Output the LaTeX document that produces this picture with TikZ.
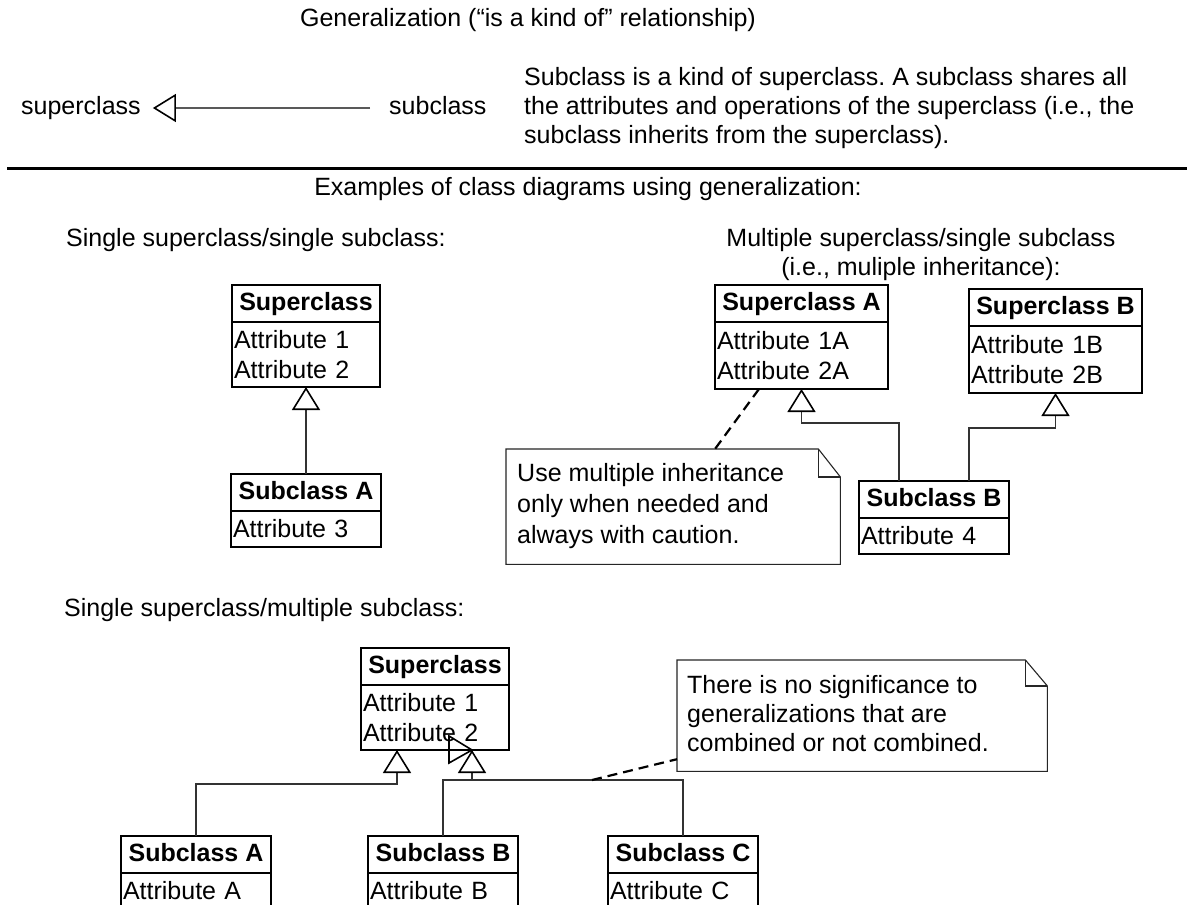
\documentclass[tikz,border=0pt]{standalone}
\usepackage{fontspec}
\setmainfont{Liberation Sans}
\usetikzlibrary{arrows.meta,calc}
\frenchspacing
\begin{document}
\begin{tikzpicture}[x=1pt,y=-1pt,
  base/.style={inner sep=0pt,font=\fontsize{25}{30}\selectfont},
  lbl/.style={base,text height=18pt,text depth=5pt},
  hdr/.style={base,draw,line width=1.7pt,outer sep=0pt,minimum height=37pt,font=\fontsize{25}{30}\selectfont\bfseries,text height=18pt,text depth=5pt},
  attr/.style={base,draw,line width=1.7pt,outer sep=0pt,anchor=north,align=left,inner xsep=2pt},
  conn/.style={draw=black!80,line width=1.1pt},
  gen/.style={conn,-{Triangle[open,length=23pt,width=28pt,line width=1.6pt,color=black]}},
  notebox/.style={draw=black!85,line width=1.1pt},
  noteline/.style={black,line width=2.2pt,dash pattern=on 10pt off 6pt}]
\useasboundingbox (0,0) rectangle (1187,905);
\clip (0,0) rectangle (1187,905);
\fill[white] (0,0) rectangle (1187,905);

% header part
\node[lbl] (title) at (528,20) {Generalization (“is a kind of” relationship)};
\node[lbl,anchor=west] (lsup) at (21,108) {superclass};
\node[lbl,anchor=west] (lsub) at (389,108) {subclass};
\draw[gen,draw=black!65,line width=1.3pt] ([xshift=-19pt]lsub.west) -- ([xshift=12pt]lsup.east);
\node[lbl,anchor=west] (p1) at (524,79) {Subclass is a kind of superclass. A subclass shares all};
\node[lbl,anchor=west] (p2) at (524,108) {the attributes and operations of the superclass (i.e., the};
\node[lbl,anchor=west] (p3) at (524,137) {subclass inherits from the superclass).};
\draw[line width=3pt] (7,168) -- (1187,168);

\node[lbl] (ex) at (588,189) {Examples of class diagrams using generalization:};
\node[lbl,anchor=west] (h1) at (66,240) {Single superclass/single subclass:};
\node[lbl] (h2a) at (921,240) {Multiple superclass/single subclass};
\node[lbl] (h2b) at (921,269) {(i.e., muliple inheritance):};
\node[lbl,anchor=west] (h3) at (64,610) {Single superclass/multiple subclass:};

% single superclass / single subclass
\node[hdr,minimum width=148pt] (s1) at (306,303.5) {Superclass};
\node[attr,text width=144pt,minimum height=65pt] (s1a) at (s1.south) {Attribute 1\\Attribute 2};
\node[hdr,minimum width=150pt] (a1) at (306,492.5) {Subclass A};
\node[attr,text width=146pt,minimum height=36pt] (a1a) at (a1.south) {Attribute 3};
\draw[gen] (a1.north) -- (s1a.south);

% multiple superclass / single subclass
\node[hdr,minimum width=173pt] (sa) at (801.5,303.5) {Superclass A};
\node[attr,text width=169pt,minimum height=67pt] (saa) at (sa.south) {Attribute 1A\\Attribute 2A};
\node[hdr,minimum width=173pt] (sb) at (1055.5,307.5) {Superclass B};
\node[attr,text width=169pt,minimum height=67pt] (sba) at (sb.south) {Attribute 1B\\Attribute 2B};
\node[hdr,minimum width=150pt] (b1) at (934,499.5) {Subclass B};
\node[attr,text width=146pt,minimum height=36pt] (b1a) at (b1.south) {Attribute 4};
\draw[gen] ($(b1.north)+(-35,0)$) -- ++(0,-58) -| (saa.south);
\draw[gen] ($(b1.north)+(35,0)$) -- ++(0,-53) -| (sba.south);

\node[minimum width=334pt,minimum height=115pt,anchor=north west,inner sep=0pt] (n1) at (506,449) {};
\draw[notebox] (n1.north west) -- ($(n1.north east)+(-22,0)$) -- ($(n1.north east)+(0,28)$) -- (n1.south east) -- (n1.south west) -- cycle;
\draw[notebox] ($(n1.north east)+(-22,0)$) |- ($(n1.north east)+(0,28)$);
\node[lbl,anchor=west] (n1t1) at (517,475) {Use multiple inheritance};
\node[lbl,anchor=west] (n1t2) at (517,506) {only when needed and};
\node[lbl,anchor=west] (n1t3) at (517,537) {always with caution.};
\draw[noteline] ($(saa.south)+(-42.5,0)$) -- ($(n1.north west)+(209,0)$);

% single superclass / multiple subclass
\node[hdr,minimum width=148pt] (sc) at (435,666.5) {Superclass};
\node[attr,text width=144pt,minimum height=65pt] (sca) at (sc.south) {Attribute 1\\Attribute 2};
\node[hdr,minimum width=150pt] (a2) at (196,854.5) {Subclass A};
\node[attr,text width=146pt,minimum height=36pt] (a2a) at (a2.south) {Attribute A};
\node[hdr,minimum width=150pt] (b2) at (443,854.5) {Subclass B};
\node[attr,text width=146pt,minimum height=36pt] (b2a) at (b2.south) {Attribute B};
\node[hdr,minimum width=150pt] (c2) at (683,854.5) {Subclass C};
\node[attr,text width=146pt,minimum height=36pt] (c2a) at (c2.south) {Attribute C};
\draw[gen] (a2.north) -- ++(0,-52) -| ($(sca.south)+(-38,0)$);
\draw[gen] (b2.north) -- ++(0,-56) -| ($(sca.south)+(37,0)$);
\draw[conn] (c2.north) -- ++(0,-56) -- ($(b2.north)+(0,-56)$);
\coordinate (j) at ($(b2.north)+(149,-56)$);
\draw[line width=1.6pt] ($(sca.south)+(14,-14)$) -- ($(sca.south)+(37,0)$) -- ($(sca.south)+(14,13)$) -- cycle;

\node[minimum width=370pt,minimum height=111pt,anchor=north west,inner sep=0pt] (n2) at (677,660) {};
\draw[notebox] (n2.north west) -- ($(n2.north east)+(-22,0)$) -- ($(n2.north east)+(0,26)$) -- (n2.south east) -- (n2.south west) -- cycle;
\draw[notebox] ($(n2.north east)+(-22,0)$) |- ($(n2.north east)+(0,26)$);
\node[lbl,anchor=west] (n2t1) at (687,687) {There is no significance to};
\node[lbl,anchor=west] (n2t2) at (687,716) {generalizations that are};
\node[lbl,anchor=west] (n2t3) at (687,745) {combined or not combined.};
\draw[noteline] (j) -- ($(n2.west)+(0,43.5)$);
\end{tikzpicture}
\end{document}
